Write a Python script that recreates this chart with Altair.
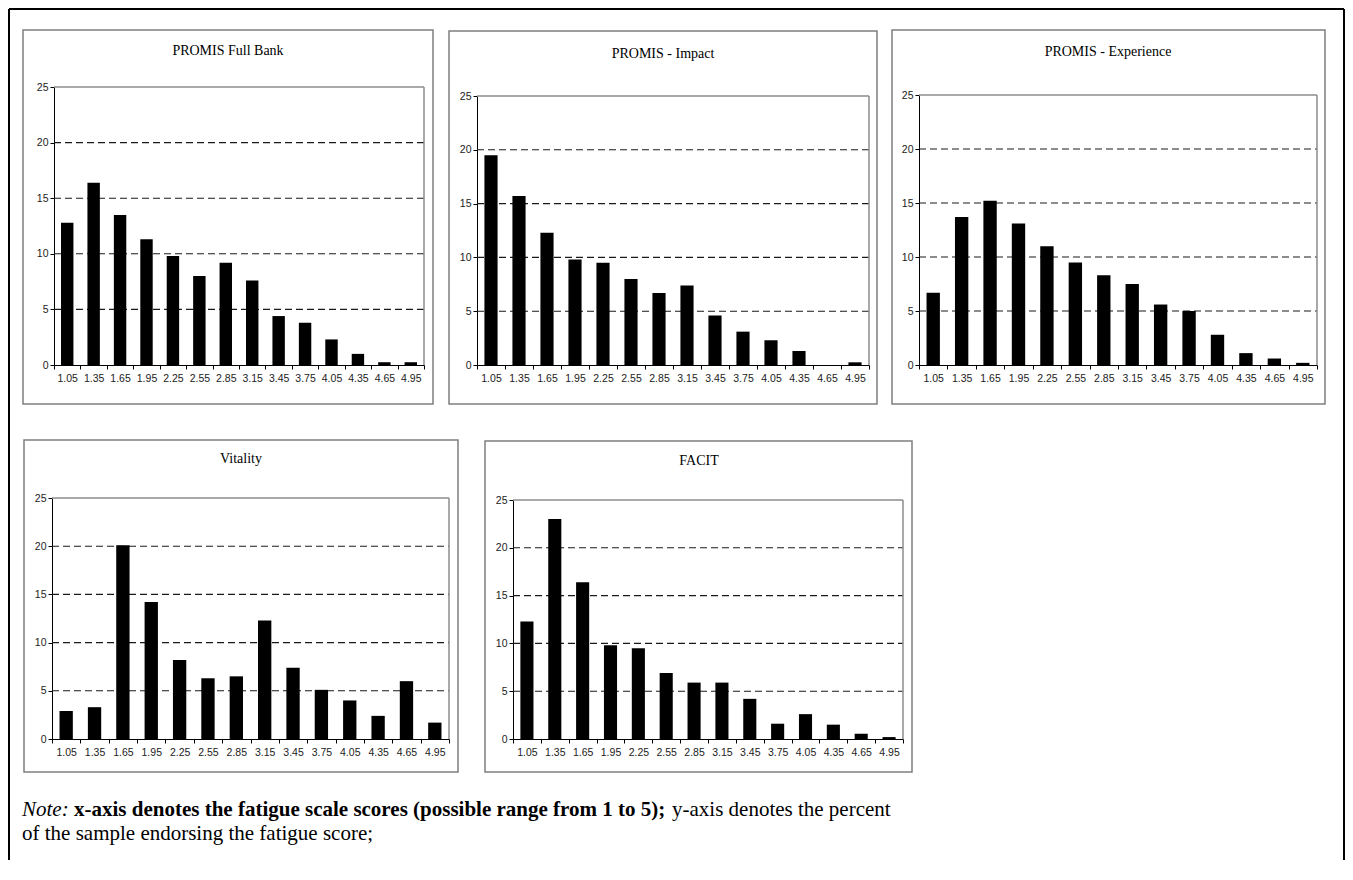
import altair as alt
import pandas as pd

# ---------------- data ----------------
scores = ["1.05", "1.35", "1.65", "1.95", "2.25", "2.55", "2.85",
          "3.15", "3.45", "3.75", "4.05", "4.35", "4.65", "4.95"]

promis_full_bank = [12.8, 16.4, 13.5, 11.3, 9.8, 8.0, 9.2, 7.6, 4.4, 3.8, 2.3, 1.0, 0.25, 0.25]
promis_impact = [19.5, 15.7, 12.3, 9.8, 9.5, 8.0, 6.7, 7.4, 4.6, 3.1, 2.3, 1.3, 0.0, 0.25]
promis_experience = [6.7, 13.7, 15.2, 13.1, 11.0, 9.5, 8.3, 7.5, 5.6, 5.0, 2.8, 1.1, 0.6, 0.2]
vitality = [2.9, 3.3, 20.1, 14.2, 8.2, 6.3, 6.5, 12.3, 7.4, 5.1, 4.0, 2.4, 6.0, 1.7]
facit = [12.3, 23.0, 16.4, 9.8, 9.5, 6.9, 5.9, 5.9, 4.2, 1.6, 2.6, 1.5, 0.55, 0.2]

panel_titles = ["PROMIS Full Bank", "PROMIS - Impact", "PROMIS - Experience", "Vitality", "FACIT"]
y_ticks = [0, 5, 10, 15, 20, 25]
grid_values = [5, 10, 15, 20]

note_italic = "Note:"
note_bold = "x-axis denotes the fatigue scale scores (possible range from 1 to 5);"
note_regular = "y-axis denotes the percent"
note_line2 = "of the sample endorsing the fatigue score;"

SERIF = "Liberation Serif"
SANS = "Liberation Sans"
W, H = 1337, 852
one_row = pd.DataFrame({"k": [0]})


def panel(title, values, fx0, fx1, fy0, fy1, x0, x1, yt, yb, tx, ty):
    df = pd.DataFrame({"score": scores, "pct": values})
    grid_df = pd.DataFrame({"pct": grid_values})
    ysc = alt.Scale(domain=[0, 25], range=[yb, yt], nice=False, zero=True)
    xsc = alt.Scale(domain=scores, range=[x0, x1], paddingInner=0, paddingOuter=0)
    y_axis = alt.Axis(
        orient="left", title=None, values=y_ticks, labelFont=SANS, labelFontSize=10.5,
        labelColor="#222222", tickSize=4, tickColor="black",
        domainColor="black", domainWidth=1, grid=False,
        labelPadding=2, labelOverlap=False, labelFlush=False, offset=-x0,
    )
    ydef = alt.Y("pct:Q", scale=ysc, axis=y_axis)

    frame = alt.Chart(one_row).mark_rect(
        filled=False, stroke="#7f7f7f", strokeWidth=1.5
    ).encode(x=alt.value(fx0), x2=alt.value(fx1), y=alt.value(fy0), y2=alt.value(fy1))

    grid = alt.Chart(grid_df).mark_rule(
        color="#1a1a1a", strokeDash=[7, 4], strokeWidth=1.1
    ).encode(y=ydef, x=alt.value(x0), x2=alt.value(x1))

    top_border = alt.Chart(one_row).mark_rule(color="#8c8c8c", strokeWidth=1.5).encode(
        x=alt.value(x0), x2=alt.value(x1), y=alt.value(yt)
    )
    right_border = alt.Chart(one_row).mark_rule(color="#8c8c8c", strokeWidth=1.5).encode(
        x=alt.value(x1), y=alt.value(yt), y2=alt.value(yb)
    )

    bars = alt.Chart(df).mark_bar(
        color="black", width=alt.RelativeBandSize(0.47)
    ).encode(
        x=alt.X(
            "score:N", sort=scores, scale=xsc,
            axis=alt.Axis(
                orient="bottom", title=None, labelAngle=0, labelFont=SANS,
                labelFontSize=10.5, labelColor="#222222", tickSize=4,
                tickColor="black", domainColor="black", domainWidth=1,
                tickBand="extent", labelPadding=4, labelOverlap=False,
                offset=-(H - yb),
            ),
        ),
        y=ydef,
    )

    ttl = alt.Chart(one_row).mark_text(
        font=SERIF, fontSize=14, color="black", align="center", baseline="middle"
    ).encode(x=alt.value(tx), y=alt.value(ty), text=alt.value(title))

    return alt.layer(frame, grid, top_border, right_border, bars, ttl)


def txt(s, x, y, **kw):
    return alt.Chart(one_row).mark_text(
        font=SERIF, fontSize=21, color="black", align="left", baseline="alphabetic", **kw
    ).encode(x=alt.value(x), y=alt.value(y), text=alt.value(s))


border_style = dict(color="black", strokeWidth=2)
border = [
    alt.Chart(one_row).mark_rule(**border_style).encode(
        x=alt.value(1), y=alt.value(1), y2=alt.value(H)),
    alt.Chart(one_row).mark_rule(**border_style).encode(
        x=alt.value(1), x2=alt.value(W - 1), y=alt.value(1)),
    alt.Chart(one_row).mark_rule(**border_style).encode(
        x=alt.value(W - 1), y=alt.value(1), y2=alt.value(H)),
]

note = [
    txt(note_italic, 14, 808, fontStyle="italic"),
    txt(note_bold, 66, 808, fontWeight="bold"),
    txt(note_regular, 664, 808),
    txt(note_line2, 14, 832),
]

#            title            values             frame x0,x1  frame y0,y1  plot x0,x1  plot yt,yb  title x,y
p1 = panel(panel_titles[0], promis_full_bank,  15, 425,   22, 396,   46, 416,   79, 357,  220, 43)
p2 = panel(panel_titles[1], promis_impact,     441, 869,  23, 396,   469, 861,  88, 357,  655, 46)
p3 = panel(panel_titles[2], promis_experience, 884, 1317, 22, 396,   911, 1309, 87, 357,  1100, 44)
p4 = panel(panel_titles[3], vitality,          16, 450,   432, 764,  44, 441,   490, 731, 233, 451)
p5 = panel(panel_titles[4], facit,             477, 904,  433, 764,  505, 895,  492, 731, 691, 453)

chart = alt.layer(
    *border, p1, p2, p3, p4, p5, *note
).resolve_scale(
    x="independent", y="independent"
).properties(
    width=W, height=H, padding=0
).configure_view(stroke="transparent")

chart.save("out.html", embed_options={"renderer": "svg", "actions": False})
